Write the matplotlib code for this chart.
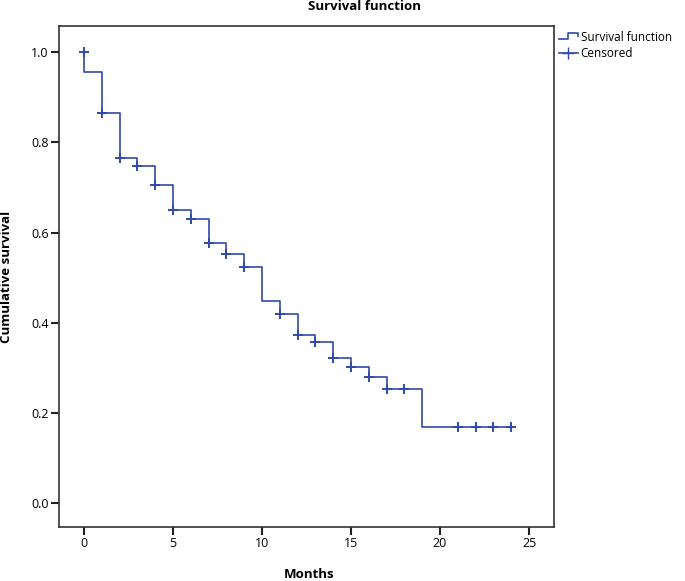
import matplotlib.pyplot as plt
from matplotlib.lines import Line2D
from matplotlib.legend_handler import HandlerBase

# step points of the survival curve (month, cumulative survival after that month)
step_months = [0, 0, 1, 2, 3, 4, 5, 6, 7, 8, 9, 10, 11, 12, 13, 14, 15, 16, 17, 19, 24]
step_surv = [1.0, 0.955, 0.865, 0.766, 0.748, 0.706, 0.651, 0.629, 0.576, 0.552, 0.523,
             0.449, 0.420, 0.373, 0.357, 0.322, 0.302, 0.280, 0.252, 0.169, 0.169]

# censored observations
cens_months = [0, 1, 2, 3, 4, 5, 6, 7, 8, 9, 11, 12, 13, 14, 15, 16, 17, 18, 21, 22, 23, 24]
cens_surv = [1.0, 0.865, 0.766, 0.748, 0.706, 0.651, 0.629, 0.576, 0.552, 0.523, 0.420,
             0.373, 0.357, 0.322, 0.302, 0.280, 0.252, 0.252, 0.169, 0.169, 0.169, 0.169]

x_ticks = [0, 5, 10, 15, 20, 25]
y_ticks = [0.0, 0.2, 0.4, 0.6, 0.8, 1.0]

color = "#2f4aa9"
plt.rcParams["font.family"] = ["Open Sans", "DejaVu Sans"]


class StepHandler(HandlerBase):
    def create_artists(self, legend, orig, xd, yd, width, height, fontsize, trans):
        xs = [xd, xd + width * 0.5, xd + width * 0.5, xd + width, xd + width]
        ys = [yd + height * 0.25, yd + height * 0.25, yd + height * 0.9, yd + height * 0.9, yd + height * 0.55]
        ln = Line2D(xs, ys, color=color, lw=1.2, transform=trans)
        return [ln]


def main():
    W, H = 685, 581
    fig = plt.figure(figsize=(6.85, 5.81), dpi=100)
    # axes box: x 59..554, y 26..527 (pixels from top-left)
    ax = fig.add_axes([59 / W, 1 - 527 / H, (554 - 59) / W, (527 - 26) / H])

    ax.step(step_months, step_surv, where="post", color=color, lw=1.2)
    ax.plot(cens_months, cens_surv, linestyle="none", marker="+", color=color,
            markersize=7.5, markeredgewidth=1.4)

    ax.set_xlim(-1.40, 26.4)
    ax.set_ylim(-0.053, 1.058)
    ax.set_xticks(x_ticks)
    ax.set_xticklabels([str(t) for t in x_ticks])
    ax.set_yticks(y_ticks)
    ax.set_yticklabels(["%.1f" % t for t in y_ticks])
    ax.tick_params(direction="out", length=5.5, width=1.5, labelsize=9, color="#222222", pad=2)

    for s in ax.spines.values():
        s.set_color("#333333")
        s.set_linewidth(1.2)

    fig.text(364 / W, 1 - 7 / H, "Survival function", fontsize=9.5, fontweight="bold",
             ha="center", va="center")
    fig.text(309 / W, 1 - 575 / H, "Months", fontsize=9.5, fontweight="bold",
             ha="center", va="center")
    fig.text(7 / W, 1 - 277 / H, "Cumulative survival", fontsize=9.5, fontweight="bold",
             ha="center", va="center", rotation=90)

    h1 = Line2D([], [], color=color)
    h2 = Line2D([], [], color=color, marker="+", markersize=9, lw=1.2)
    ax.legend([h1, h2], ["Survival function", "Censored"], loc="upper left",
              bbox_to_anchor=(1.0, 1.0), frameon=False, fontsize=8.5,
              handler_map={h1: StepHandler()}, handlelength=1.6, handletextpad=0.25,
              borderaxespad=0.1, borderpad=0.3, labelspacing=0.25)

    fig.savefig("out.png", dpi=100)


if __name__ == "__main__":
    main()
